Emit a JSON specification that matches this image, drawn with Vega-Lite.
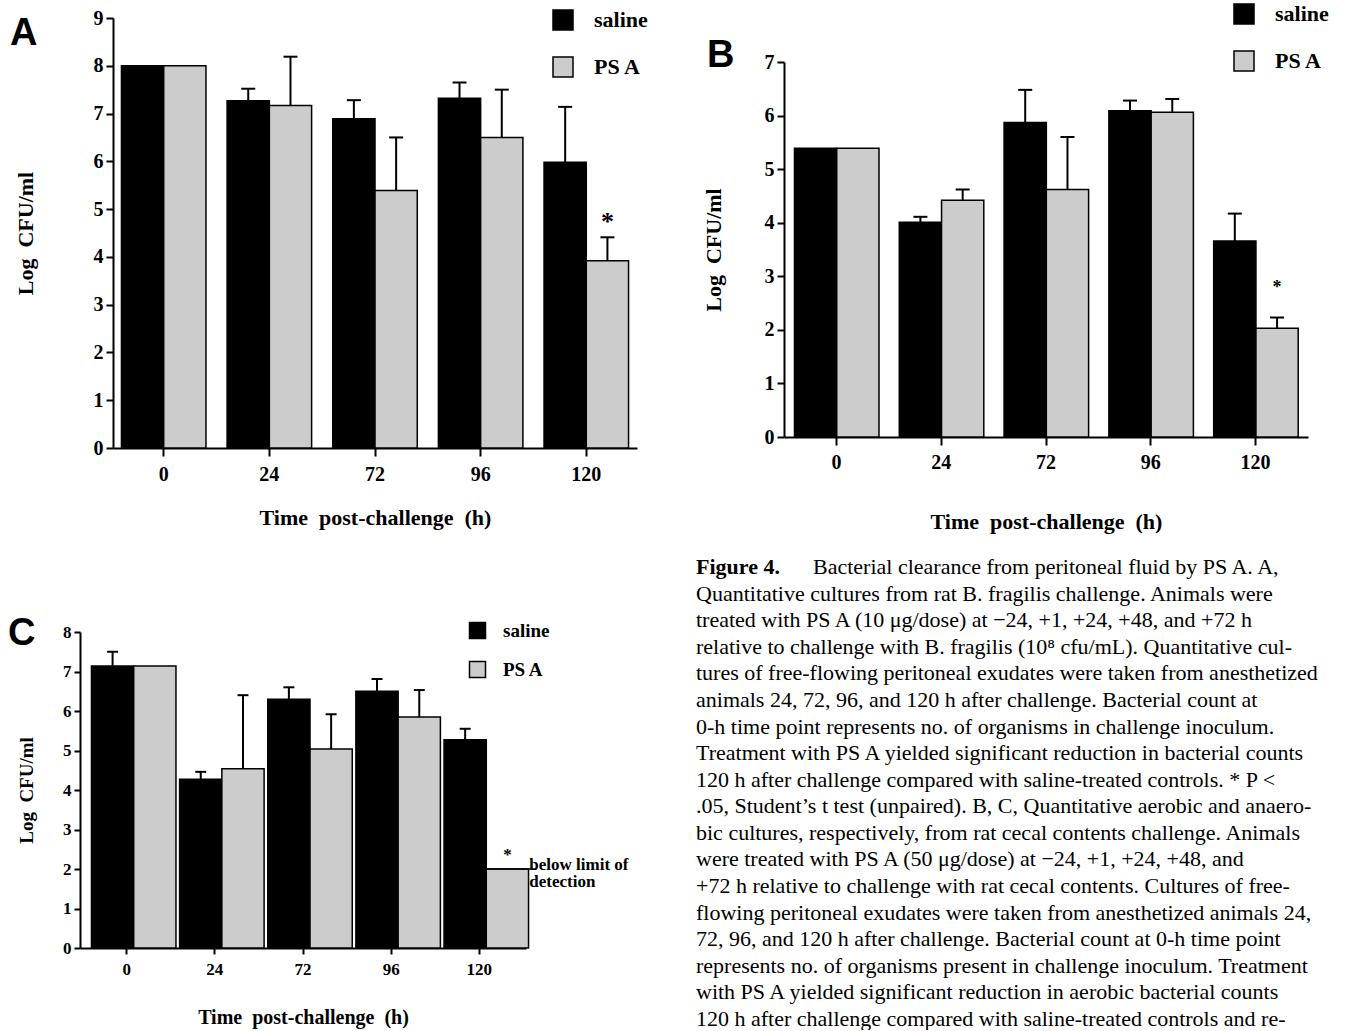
{
  "$schema": "https://vega.github.io/schema/vega-lite/v6.json",
  "background": "white",
  "padding": {"left": 8, "top": 3, "right": 0, "bottom": 0},
  "config": {
    "view": {"stroke": null},
    "font": "Liberation Serif",
    "axis": {"domainColor": "black", "domainWidth": 2, "tickColor": "black", "tickWidth": 2, "labelColor": "black", "labelFont": "Liberation Serif", "labelFontWeight": "bold", "titleFont": "Liberation Serif", "titleFontWeight": "bold", "titleColor": "black", "grid": false, "labelOverlap": false},
    "legend": {"labelFont": "Liberation Serif", "labelFontWeight": "bold", "labelColor": "black", "symbolType": "square", "symbolStrokeColor": "black", "symbolStrokeWidth": 1.5, "symbolOpacity": 1, "labelExpr": "datum.label == 'PS A' ? 'PS\u00a0\u00a0A' : datum.label"},
    "title": {"font": "Liberation Sans", "fontWeight": "bold", "color": "black"}
  },
  "datasets": {
    "A": [
      {"time": "0", "group": "saline", "value": 8.0, "upper": null},
      {"time": "0", "group": "PS A", "value": 8.0, "upper": null},
      {"time": "24", "group": "saline", "value": 7.27, "upper": 7.52},
      {"time": "24", "group": "PS A", "value": 7.17, "upper": 8.19},
      {"time": "72", "group": "saline", "value": 6.89, "upper": 7.28},
      {"time": "72", "group": "PS A", "value": 5.39, "upper": 6.5},
      {"time": "96", "group": "saline", "value": 7.32, "upper": 7.65},
      {"time": "96", "group": "PS A", "value": 6.5, "upper": 7.5},
      {"time": "120", "group": "saline", "value": 5.98, "upper": 7.14},
      {"time": "120", "group": "PS A", "value": 3.92, "upper": 4.41, "star": true}
    ],
    "B": [
      {"time": "0", "group": "saline", "value": 5.39, "upper": null},
      {"time": "0", "group": "PS A", "value": 5.39, "upper": null},
      {"time": "24", "group": "saline", "value": 4.01, "upper": 4.11},
      {"time": "24", "group": "PS A", "value": 4.42, "upper": 4.62},
      {"time": "72", "group": "saline", "value": 5.87, "upper": 6.48},
      {"time": "72", "group": "PS A", "value": 4.62, "upper": 5.6},
      {"time": "96", "group": "saline", "value": 6.09, "upper": 6.28},
      {"time": "96", "group": "PS A", "value": 6.06, "upper": 6.31},
      {"time": "120", "group": "saline", "value": 3.66, "upper": 4.17},
      {"time": "120", "group": "PS A", "value": 2.03, "upper": 2.23, "star": true}
    ],
    "C": [
      {"time": "0", "group": "saline", "value": 7.14, "upper": 7.5},
      {"time": "0", "group": "PS A", "value": 7.14, "upper": null},
      {"time": "24", "group": "saline", "value": 4.27, "upper": 4.46},
      {"time": "24", "group": "PS A", "value": 4.54, "upper": 6.4},
      {"time": "72", "group": "saline", "value": 6.3, "upper": 6.6},
      {"time": "72", "group": "PS A", "value": 5.04, "upper": 5.92},
      {"time": "96", "group": "saline", "value": 6.5, "upper": 6.81},
      {"time": "96", "group": "PS A", "value": 5.85, "upper": 6.53},
      {"time": "120", "group": "saline", "value": 5.27, "upper": 5.55},
      {"time": "120", "group": "PS A", "value": 2.0, "upper": null, "star": true}
    ],
    "caption": [
      {"i": 0, "line": "Figure 4.", "part": "head"},
      {"i": 0, "line": "Bacterial clearance from peritoneal fluid by PS A. A,", "part": "tail"},
      {"i": 1, "line": "Quantitative cultures from rat B. fragilis challenge. Animals were", "part": "body"},
      {"i": 2, "line": "treated with PS A (10 μg/dose) at −24, +1, +24, +48, and +72 h", "part": "body"},
      {"i": 3, "line": "relative to challenge with B. fragilis (10⁸ cfu/mL). Quantitative cul-", "part": "body"},
      {"i": 4, "line": "tures of free-flowing peritoneal exudates were taken from anesthetized", "part": "body"},
      {"i": 5, "line": "animals 24, 72, 96, and 120 h after challenge. Bacterial count at", "part": "body"},
      {"i": 6, "line": "0-h time point represents no. of organisms in challenge inoculum.", "part": "body"},
      {"i": 7, "line": "Treatment with PS A yielded significant reduction in bacterial counts", "part": "body"},
      {"i": 8, "line": "120 h after challenge compared with saline-treated controls. * P <", "part": "body"},
      {"i": 9, "line": ".05, Student’s t test (unpaired). B, C, Quantitative aerobic and anaero-", "part": "body"},
      {"i": 10, "line": "bic cultures, respectively, from rat cecal contents challenge. Animals", "part": "body"},
      {"i": 11, "line": "were treated with PS A (50 μg/dose) at −24, +1, +24, +48, and", "part": "body"},
      {"i": 12, "line": "+72 h relative to challenge with rat cecal contents. Cultures of free-", "part": "body"},
      {"i": 13, "line": "flowing peritoneal exudates were taken from anesthetized animals 24,", "part": "body"},
      {"i": 14, "line": "72, 96, and 120 h after challenge. Bacterial count at 0-h time point", "part": "body"},
      {"i": 15, "line": "represents no. of organisms present in challenge inoculum. Treatment", "part": "body"},
      {"i": 16, "line": "with PS A yielded significant reduction in aerobic bacterial counts", "part": "body"},
      {"i": 17, "line": "120 h after challenge compared with saline-treated controls and re-", "part": "body"}
    ]
  },
  "spacing": 48,
  "resolve": {"scale": {"color": "independent"}, "legend": {"color": "independent"}},
  "hconcat": [
    {
      "spacing": 87,
      "resolve": {"scale": {"color": "independent"}, "legend": {"color": "independent"}},
      "vconcat": [
        {
          "width": 557, "height": 430,
          "title": {"text": "A", "anchor": "start", "frame": "group", "orient": "top", "fontSize": 38, "baseline": "alphabetic", "align": "left", "offset": 0, "dx": -70, "dy": 75},
          "data": {"name": "A"},
          "layer": [
            {
              "mark": {"type": "bar", "stroke": "black", "strokeWidth": 1.5},
              "encoding": {
                "x": {"field": "time", "type": "nominal", "sort": ["0", "24", "72", "96", "120"], "scale": {"range": [33, 557], "paddingInner": 0.2, "paddingOuter": 0.08}, "axis": {"title": "Time\u00a0\u00a0post-challenge\u00a0\u00a0(h)", "labelAngle": 0, "labelFontSize": 20, "titleFontSize": 22, "tickSize": 8, "labelPadding": 8, "titlePadding": 23}},
                "xOffset": {"field": "group", "sort": ["saline", "PS A"]},
                "y": {"field": "value", "type": "quantitative", "scale": {"domain": [0, 9]}, "axis": {"title": "Log\u00a0\u00a0CFU/ml", "values": [0, 1, 2, 3, 4, 5, 6, 7, 8, 9], "format": "d", "offset": -33, "labelFontSize": 20, "titleFontSize": 22, "tickSize": 7, "labelPadding": 3, "titlePadding": 56}},
                "color": {"field": "group", "type": "nominal", "sort": ["saline", "PS A"], "scale": {"domain": ["saline", "PS A"], "range": ["#000000", "#cccccc"]}, "legend": {"orient": "none", "legendX": 472, "legendY": -9, "direction": "vertical", "title": null, "labelFontSize": 22, "symbolSize": 400, "rowPadding": 21, "labelOffset": 20}}
              }
            },
            {
              "transform": [{"filter": "datum.upper != null"}],
              "mark": {"type": "rule", "color": "black", "strokeWidth": 2},
              "encoding": {
                "x": {"field": "time", "type": "nominal", "sort": ["0", "24", "72", "96", "120"]},
                "xOffset": {"field": "group", "sort": ["saline", "PS A"]},
                "y": {"field": "value", "type": "quantitative"},
                "y2": {"field": "upper"}
              }
            },
            {
              "transform": [{"filter": "datum.upper != null"}],
              "mark": {"type": "tick", "color": "black", "thickness": 2, "size": 14, "orient": "horizontal", "opacity": 1},
              "encoding": {
                "x": {"field": "time", "type": "nominal", "sort": ["0", "24", "72", "96", "120"]},
                "xOffset": {"field": "group", "sort": ["saline", "PS A"]},
                "y": {"field": "upper", "type": "quantitative"}
              }
            },
            {
              "transform": [{"filter": "datum.star"}],
              "mark": {"type": "text", "text": "*", "font": "Liberation Serif", "fontWeight": "bold", "fontSize": 26, "baseline": "alphabetic", "dy": -7, "color": "black"},
              "encoding": {
                "x": {"field": "time", "type": "nominal", "sort": ["0", "24", "72", "96", "120"]},
                "xOffset": {"field": "group", "sort": ["saline", "PS A"]},
                "y": {"field": "upper", "type": "quantitative"}
              }
            }
          ]
        },
        {
          "width": 446, "height": 316,
          "title": {"text": "C", "anchor": "start", "frame": "group", "orient": "top", "fontSize": 38, "baseline": "alphabetic", "align": "left", "offset": 0, "dx": -72, "dy": 62},
          "layer": [
            {
              "data": {"name": "C"},
              "mark": {"type": "bar", "stroke": "black", "strokeWidth": 1.5},
              "encoding": {
                "x": {"field": "time", "type": "nominal", "sort": ["0", "24", "72", "96", "120"], "scale": {"paddingInner": 0.2, "paddingOuter": 0.13}, "axis": {"title": "Time\u00a0\u00a0post-challenge\u00a0\u00a0(h)", "labelAngle": 0, "labelFontSize": 17, "titleFontSize": 20, "tickSize": 6, "labelPadding": 7, "titlePadding": 30}},
                "xOffset": {"field": "group", "sort": ["saline", "PS A"]},
                "y": {"field": "value", "type": "quantitative", "scale": {"domain": [0, 8]}, "axis": {"title": "Log\u00a0\u00a0CFU/ml", "values": [0, 1, 2, 3, 4, 5, 6, 7, 8], "format": "d", "labelFontSize": 17, "titleFontSize": 19, "tickSize": 6, "labelPadding": 3, "titlePadding": 26}},
                "color": {"field": "group", "type": "nominal", "sort": ["saline", "PS A"], "scale": {"domain": ["saline", "PS A"], "range": ["#000000", "#cccccc"]}, "legend": {"orient": "none", "legendX": 388, "legendY": -11, "direction": "vertical", "title": null, "labelFontSize": 19, "symbolSize": 256, "rowPadding": 16, "labelOffset": 16}}
              }
            },
            {
              "data": {"name": "C"},
              "transform": [{"filter": "datum.upper != null"}],
              "mark": {"type": "rule", "color": "black", "strokeWidth": 2},
              "encoding": {
                "x": {"field": "time", "type": "nominal", "sort": ["0", "24", "72", "96", "120"]},
                "xOffset": {"field": "group", "sort": ["saline", "PS A"]},
                "y": {"field": "value", "type": "quantitative", "axis": {"title": "Log\u00a0\u00a0CFU/ml", "values": [0, 1, 2, 3, 4, 5, 6, 7, 8], "format": "d", "labelFontSize": 17, "titleFontSize": 19, "tickSize": 6, "labelPadding": 3, "titlePadding": 26}},
                "y2": {"field": "upper"}
              }
            },
            {
              "data": {"name": "C"},
              "transform": [{"filter": "datum.upper != null"}],
              "mark": {"type": "tick", "color": "black", "thickness": 2, "size": 11, "orient": "horizontal", "opacity": 1},
              "encoding": {
                "x": {"field": "time", "type": "nominal", "sort": ["0", "24", "72", "96", "120"]},
                "xOffset": {"field": "group", "sort": ["saline", "PS A"]},
                "y": {"field": "upper", "type": "quantitative", "axis": {"title": "Log\u00a0\u00a0CFU/ml", "values": [0, 1, 2, 3, 4, 5, 6, 7, 8], "format": "d", "labelFontSize": 17, "titleFontSize": 19, "tickSize": 6, "labelPadding": 3, "titlePadding": 26}}
              }
            },
            {
              "data": {"name": "C"},
              "transform": [{"filter": "datum.star"}],
              "mark": {"type": "text", "text": "*", "font": "Liberation Serif", "fontWeight": "bold", "fontSize": 17, "baseline": "alphabetic", "dy": -9, "color": "black"},
              "encoding": {
                "x": {"field": "time", "type": "nominal", "sort": ["0", "24", "72", "96", "120"]},
                "xOffset": {"field": "group", "sort": ["saline", "PS A"]},
                "y": {"field": "value", "type": "quantitative", "axis": {"title": "Log\u00a0\u00a0CFU/ml", "values": [0, 1, 2, 3, 4, 5, 6, 7, 8], "format": "d", "labelFontSize": 17, "titleFontSize": 19, "tickSize": 6, "labelPadding": 3, "titlePadding": 26}}
              }
            },
            {
              "data": {"values": [{"time": "120", "limit": 2}]},
              "mark": {"type": "rule", "color": "black", "strokeWidth": 1.5},
              "encoding": {
                "x": {"field": "time", "type": "nominal", "sort": ["0", "24", "72", "96", "120"], "bandPosition": 0.5},
                "x2": {"field": "time", "bandPosition": 1.31},
                "y": {"field": "limit", "type": "quantitative", "axis": {"title": "Log\u00a0\u00a0CFU/ml", "values": [0, 1, 2, 3, 4, 5, 6, 7, 8], "format": "d", "labelFontSize": 17, "titleFontSize": 19, "tickSize": 6, "labelPadding": 3, "titlePadding": 26}}
              }
            },
            {
              "data": {"values": [{"time": "120", "limit": 2}]},
              "mark": {"type": "text", "text": ["below limit of", "detection"], "font": "Liberation Serif", "fontWeight": "bold", "fontSize": 17, "align": "left", "baseline": "middle", "lineHeight": 17, "dy": -4, "color": "black"},
              "encoding": {
                "x": {"field": "time", "type": "nominal", "sort": ["0", "24", "72", "96", "120"], "bandPosition": 1.21},
                "y": {"field": "limit", "type": "quantitative", "axis": {"title": "Log\u00a0\u00a0CFU/ml", "values": [0, 1, 2, 3, 4, 5, 6, 7, 8], "format": "d", "labelFontSize": 17, "titleFontSize": 19, "tickSize": 6, "labelPadding": 3, "titlePadding": 26}}
              }
            }
          ]
        }
      ]
    },
    {
      "spacing": 24,
      "resolve": {"scale": {"color": "independent"}, "legend": {"color": "independent"}},
      "vconcat": [
        {
          "width": 612, "height": 419,
          "title": {"text": "B", "anchor": "start", "frame": "group", "orient": "top", "fontSize": 38, "baseline": "alphabetic", "align": "left", "offset": 0, "dx": 11, "dy": 102},
          "data": {"name": "B"},
          "layer": [
            {
              "mark": {"type": "bar", "stroke": "black", "strokeWidth": 1.5},
              "encoding": {
                "x": {"field": "time", "type": "nominal", "sort": ["0", "24", "72", "96", "120"], "scale": {"range": [88, 612], "paddingInner": 0.2, "paddingOuter": 0.1}, "axis": {"title": "Time\u00a0\u00a0post-challenge\u00a0\u00a0(h)", "labelAngle": 0, "labelFontSize": 20, "titleFontSize": 22, "tickSize": 8, "labelPadding": 7, "titlePadding": 39}},
                "xOffset": {"field": "group", "sort": ["saline", "PS A"]},
                "y": {"field": "value", "type": "quantitative", "scale": {"domain": [0, 7], "range": [419, 44]}, "axis": {"title": "Log\u00a0\u00a0CFU/ml", "values": [0, 1, 2, 3, 4, 5, 6, 7], "format": "d", "offset": -88, "labelFontSize": 20, "titleFontSize": 22, "tickSize": 7, "labelPadding": 3, "titlePadding": 39}},
                "color": {"field": "group", "type": "nominal", "sort": ["saline", "PS A"], "scale": {"domain": ["saline", "PS A"], "range": ["#000000", "#cccccc"]}, "legend": {"orient": "none", "legendX": 537, "legendY": -15, "direction": "vertical", "title": null, "labelFontSize": 22, "symbolSize": 400, "rowPadding": 21, "labelOffset": 20}}
              }
            },
            {
              "transform": [{"filter": "datum.upper != null"}],
              "mark": {"type": "rule", "color": "black", "strokeWidth": 2},
              "encoding": {
                "x": {"field": "time", "type": "nominal", "sort": ["0", "24", "72", "96", "120"]},
                "xOffset": {"field": "group", "sort": ["saline", "PS A"]},
                "y": {"field": "value", "type": "quantitative"},
                "y2": {"field": "upper"}
              }
            },
            {
              "transform": [{"filter": "datum.upper != null"}],
              "mark": {"type": "tick", "color": "black", "thickness": 2, "size": 14, "orient": "horizontal", "opacity": 1},
              "encoding": {
                "x": {"field": "time", "type": "nominal", "sort": ["0", "24", "72", "96", "120"]},
                "xOffset": {"field": "group", "sort": ["saline", "PS A"]},
                "y": {"field": "upper", "type": "quantitative"}
              }
            },
            {
              "transform": [{"filter": "datum.star"}],
              "mark": {"type": "text", "text": "*", "font": "Liberation Serif", "fontWeight": "bold", "fontSize": 18, "baseline": "alphabetic", "dy": -25, "color": "black"},
              "encoding": {
                "x": {"field": "time", "type": "nominal", "sort": ["0", "24", "72", "96", "120"]},
                "xOffset": {"field": "group", "sort": ["saline", "PS A"]},
                "y": {"field": "upper", "type": "quantitative"}
              }
            }
          ]
        },
        {
          "width": 643, "height": 452,
          "data": {"name": "caption"},
          "encoding": {
            "x": {"datum": 0, "type": "quantitative", "scale": {"domain": [0, 1]}, "axis": null},
            "y": {"field": "i", "type": "quantitative", "scale": {"domain": [0, 17], "reverse": true}, "axis": null},
            "text": {"field": "line", "type": "nominal"}
          },
          "layer": [
            {
              "transform": [{"filter": "datum.part == 'body'"}],
              "mark": {"type": "text", "align": "left", "baseline": "middle", "font": "Liberation Serif", "fontSize": 22, "color": "black"}
            },
            {
              "transform": [{"filter": "datum.part == 'head'"}],
              "mark": {"type": "text", "align": "left", "baseline": "middle", "font": "Liberation Serif", "fontWeight": "bold", "fontSize": 22, "color": "black"}
            },
            {
              "transform": [{"filter": "datum.part == 'tail'"}],
              "mark": {"type": "text", "align": "left", "baseline": "middle", "font": "Liberation Serif", "fontSize": 22, "dx": 117, "color": "black"}
            }
          ]
        }
      ]
    }
  ]
}
